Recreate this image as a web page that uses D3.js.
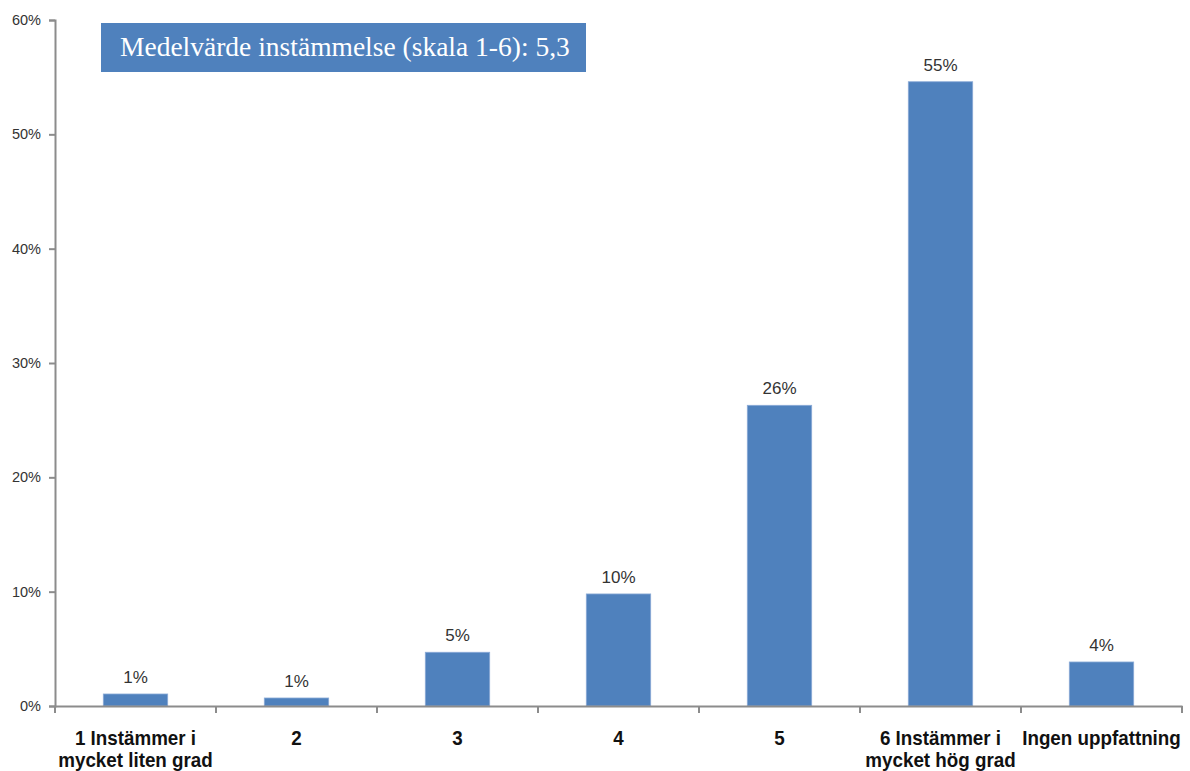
<!DOCTYPE html>
<html><head><meta charset="utf-8">
<script src="https://cdn.jsdelivr.net/npm/d3@7"></script>
<style>body{margin:0;background:#fff}</style>
</head><body>
<svg id="c" width="1190" height="771"></svg>
<script>
const categories = [["1 Instämmer i","mycket liten grad"],["2"],["3"],["4"],["5"],["6 Instämmer i","mycket hög grad"],["Ingen uppfattning"]];
const values = [1.05, 0.7, 4.7, 9.8, 26.3, 54.6, 3.85];
const valueLabels = ["1%","1%","5%","10%","26%","55%","4%"];
const yTicks = [0,10,20,30,40,50,60];
const title = "Medelvärde instämmelse (skala 1-6): 5,3";

const svg = d3.select("#c");
const m = {left:55, right:8, top:20, bottom:65};
const x = d3.scaleBand().domain(d3.range(categories.length)).range([m.left, 1182]).paddingInner(0.6).paddingOuter(0.3);
const xb = d3.scaleBand().domain(d3.range(categories.length)).range([m.left, 1182]);
const y = d3.scaleLinear().domain([0,60]).range([706, 20]);
const axisColor = "#8c8c8c";
const sans = "Liberation Sans, Arial, sans-serif";

// bars
svg.selectAll("rect.bar").data(values).enter().append("rect")
  .attr("x",(d,i)=>x(i)).attr("width",x.bandwidth())
  .attr("y",d=>y(d)).attr("height",d=>y(0)-y(d))
  .attr("fill","#4f81bd").attr("stroke","#8aaad6").attr("stroke-width",0.8);

// value labels
svg.selectAll("text.vl").data(values).enter().append("text")
  .attr("x",(d,i)=>x(i)+x.bandwidth()/2).attr("y",d=>y(d)-11)
  .attr("text-anchor","middle").attr("font-family",sans)
  .attr("font-size",17).attr("fill","#333").text((d,i)=>valueLabels[i]);

// y axis
const ya = svg.append("g").attr("transform",`translate(${m.left},0)`)
  .call(d3.axisLeft(y).tickValues(yTicks).tickFormat(d=>d+"%").tickSize(6).tickPadding(8));
ya.select(".domain").attr("stroke",axisColor).attr("stroke-width",2);
ya.selectAll(".tick line").attr("stroke",axisColor).attr("stroke-width",2);
ya.selectAll(".tick text").attr("font-family",sans).attr("font-size",14.5).attr("fill","#333");

// x axis
const xa = svg.append("g").attr("transform",`translate(0,${y(0)})`)
  .call(d3.axisBottom(xb).tickValues([]).tickSizeOuter(0));
xa.select(".domain").attr("stroke",axisColor).attr("stroke-width",2);
const tickPos = d3.range(categories.length+1).map(i=> i<categories.length ? xb(i) : xb(categories.length-1)+xb.bandwidth());
svg.selectAll("line.xt").data(tickPos).enter().append("line")
  .attr("x1",d=>d).attr("x2",d=>d).attr("y1",y(0)).attr("y2",y(0)+7)
  .attr("stroke",axisColor).attr("stroke-width",2);

// category labels
const cg = svg.selectAll("g.cl").data(categories).enter().append("g")
  .attr("transform",(d,i)=>`translate(${xb(i)+xb.bandwidth()/2},745) scale(0.94,1)`);
cg.each(function(d){
  const g = d3.select(this);
  d.forEach((line,j)=>g.append("text").attr("x",0).attr("y",j*22)
    .attr("text-anchor","middle").attr("font-family",sans)
    .attr("font-weight","bold").attr("font-size",20).attr("fill","#111").text(line));
});

// title box
svg.append("rect").attr("x",101).attr("y",23).attr("width",485).attr("height",49).attr("fill","#4f81bd");
svg.append("text").attr("x",120).attr("y",56).attr("font-family","Liberation Serif, Times New Roman, serif")
  .attr("font-size",27.5).attr("fill","#fff").text(title);
</script>
</body></html>
